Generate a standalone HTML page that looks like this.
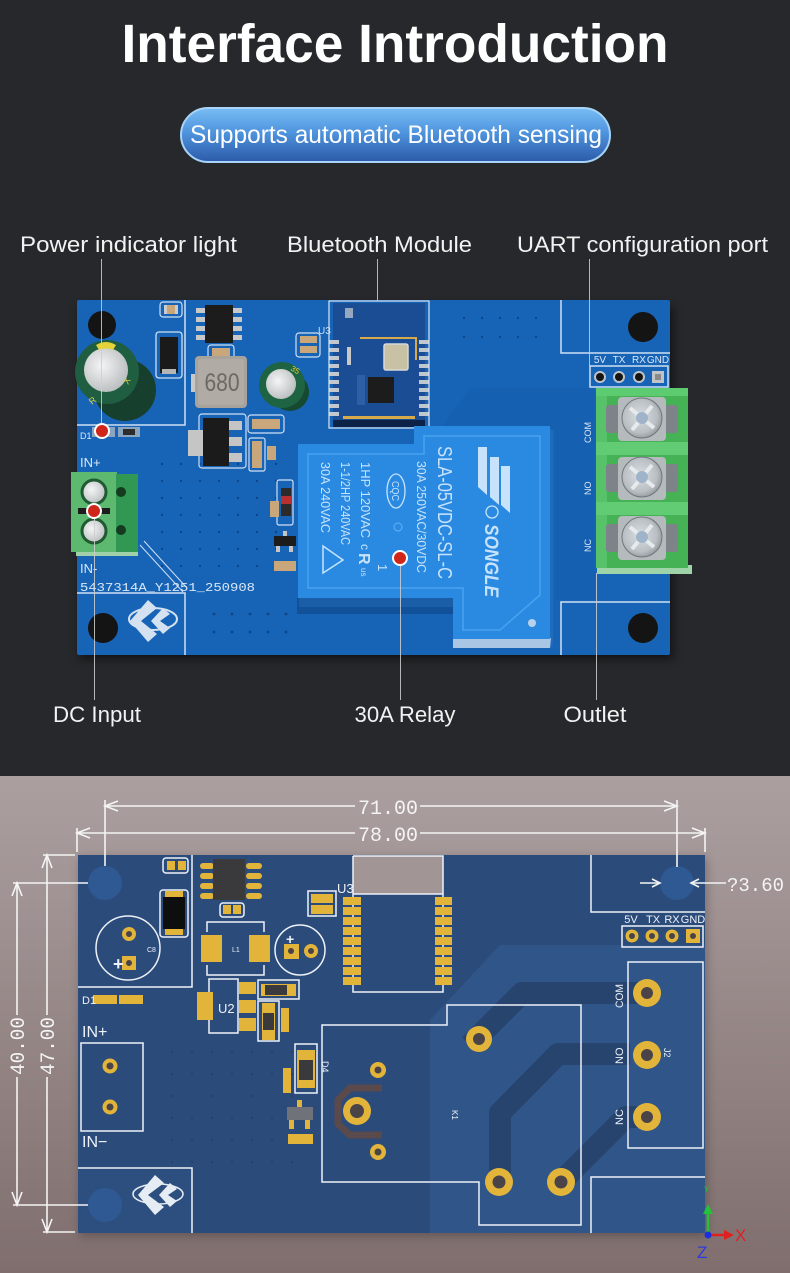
<!DOCTYPE html>
<html><head><meta charset="utf-8"><style>html,body{margin:0;padding:0;background:#27282b;width:790px;height:1273px;overflow:hidden}svg{display:block}</style></head>
<body>
<svg xmlns="http://www.w3.org/2000/svg" width="790" height="1273" viewBox="0 0 790 1273" font-family="'Liberation Sans', sans-serif">
<defs>
 <linearGradient id="btn" x1="0" y1="0" x2="0" y2="1">
  <stop offset="0" stop-color="#78bdf4"/><stop offset="0.45" stop-color="#4f94de"/><stop offset="1" stop-color="#2b5aa8"/>
 </linearGradient>
 <linearGradient id="bot" x1="0" y1="0" x2="0" y2="1">
  <stop offset="0" stop-color="#ab9f9f"/><stop offset="0.3" stop-color="#9f9191"/><stop offset="1" stop-color="#806e6e"/>
 </linearGradient>
 <radialGradient id="silv" cx="0.4" cy="0.4" r="0.7">
  <stop offset="0" stop-color="#f4f5f5"/><stop offset="1" stop-color="#b4b8ba"/>
 </radialGradient>
 <radialGradient id="scr" cx="0.45" cy="0.45" r="0.6">
  <stop offset="0" stop-color="#d8dde0"/><stop offset="0.7" stop-color="#b9bfc3"/><stop offset="1" stop-color="#8e9599"/>
 </radialGradient>
 <filter id="sh" x="-10%" y="-10%" width="120%" height="130%"><feGaussianBlur stdDeviation="5"/></filter>
 <pattern id="via1" x="160" y="462" width="19" height="17" patternUnits="userSpaceOnUse"><circle cx="2" cy="2" r="1.2" fill="#0d4587"/></pattern>
 <pattern id="via2" x="212" y="612" width="18" height="18" patternUnits="userSpaceOnUse"><circle cx="2" cy="2" r="1.4" fill="#0d4587"/></pattern>
 <pattern id="via3" x="462" y="316" width="18" height="19" patternUnits="userSpaceOnUse"><circle cx="2" cy="2" r="1.2" fill="#0d4587"/></pattern>
 <pattern id="via4" x="170" y="1050" width="20" height="22" patternUnits="userSpaceOnUse"><circle cx="2" cy="2" r="0.9" fill="#1f3a63"/></pattern>
</defs>

<rect width="790" height="776" fill="#27282b"/>
<rect y="776" width="790" height="497" fill="url(#bot)"/>

<text x="395" y="62" text-anchor="middle" font-size="54" font-weight="bold" fill="#ffffff" textLength="547" lengthAdjust="spacingAndGlyphs">Interface Introduction</text>

<rect x="181" y="108" width="429" height="54" rx="27" fill="url(#btn)" stroke="#a7d4f8" stroke-width="2"/>
<text x="396" y="143" text-anchor="middle" font-size="25" fill="#ffffff" textLength="412" lengthAdjust="spacingAndGlyphs">Supports automatic Bluetooth sensing</text>

<g font-size="22" fill="#f2f2f2" text-anchor="middle">
 <text x="128.5" y="252" textLength="217" lengthAdjust="spacingAndGlyphs">Power indicator light</text>
 <text x="379.5" y="252" textLength="185" lengthAdjust="spacingAndGlyphs">Bluetooth Module</text>
 <text x="642.5" y="252" textLength="251" lengthAdjust="spacingAndGlyphs">UART configuration port</text>
 <text x="97" y="722" textLength="88" lengthAdjust="spacingAndGlyphs">DC Input</text>
 <text x="405" y="722" textLength="101" lengthAdjust="spacingAndGlyphs">30A Relay</text>
 <text x="595" y="722" textLength="63" lengthAdjust="spacingAndGlyphs">Outlet</text>
</g>

<!-- ============ TOP PCB ============ -->
<rect x="80" y="307" width="593" height="352" fill="#000" opacity="0.55" filter="url(#sh)"/>
<rect x="77" y="300" width="593" height="355" rx="2" fill="#1764b7"/>
<polygon points="470,388 595,388 595,600 555,600 555,430 440,430" fill="#135aa9" opacity="0.45"/>
<rect x="158" y="460" width="132" height="118" fill="url(#via1)"/>
<rect x="210" y="610" width="82" height="30" fill="url(#via2)"/>
<rect x="460" y="314" width="84" height="28" fill="url(#via3)"/>

<g stroke="#cfe0f4" stroke-width="1.5" fill="none">
 <polyline points="77,425 185,425 185,300"/>
 <polyline points="77,593 185,593 185,655"/>
 <polyline points="561,300 561,353 670,353"/>
 <polyline points="670,602 561,602 561,655"/>
 <rect x="590" y="366" width="78" height="21"/>
 <line x1="140" y1="545" x2="183" y2="592" stroke-width="1"/>
 <line x1="144" y1="541" x2="187" y2="588" stroke-width="1"/>
</g>

<circle cx="102" cy="325" r="14" fill="#141414"/>
<circle cx="643" cy="327" r="15" fill="#141414"/>
<circle cx="103" cy="628" r="15" fill="#141414"/>
<circle cx="643" cy="628" r="15" fill="#141414"/>

<polygon points="79,385 101,349 147,402 125,420" fill="#173f2e"/>
<circle cx="125" cy="390" r="31" fill="#173f2e"/>
<circle cx="107" cy="372" r="32" fill="#1f5e40"/>
<circle cx="106" cy="370" r="22" fill="url(#silv)"/>
<path d="M96,345 Q106,339 116,345 L113,350 Q106,347 99,350 Z" fill="#e3d23a"/>
<text x="92" y="405" font-size="9" fill="#e3d23a" transform="rotate(-40 92 405)">R</text>
<text x="128" y="385" font-size="9" fill="#e3d23a" transform="rotate(-60 128 385)">X</text>

<rect x="156" y="332" width="26" height="46" rx="3" fill="none" stroke="#cfe0f4" stroke-width="1.3"/>
<rect x="160" y="337" width="18" height="36" fill="#1a1a1a"/>
<rect x="162" y="369" width="14" height="5" fill="#b5b5b5"/>
<rect x="160" y="302" width="22" height="15" rx="3" fill="none" stroke="#cfe0f4" stroke-width="1.2"/>
<rect x="164" y="305" width="14" height="9" fill="#c9a77a"/>
<rect x="164" y="305" width="3" height="9" fill="#ccc"/><rect x="175" y="305" width="3" height="9" fill="#ccc"/>

<g fill="#c8c8c8">
 <rect x="196" y="308" width="10" height="5"/><rect x="196" y="317" width="10" height="5"/><rect x="196" y="326" width="10" height="5"/><rect x="196" y="335" width="10" height="5"/>
 <rect x="232" y="308" width="10" height="5"/><rect x="232" y="317" width="10" height="5"/><rect x="232" y="326" width="10" height="5"/><rect x="232" y="335" width="10" height="5"/>
</g>
<rect x="205" y="305" width="28" height="38" fill="#1c1c1c"/>
<rect x="208" y="345" width="26" height="15" rx="3" fill="none" stroke="#cfe0f4" stroke-width="1.2"/>
<rect x="212" y="348" width="18" height="9" fill="#c9a77a"/>

<rect x="191" y="374" width="6" height="18" fill="#c8c8c8"/>
<rect x="195" y="356" width="52" height="52" rx="4" fill="#a7a29b"/>
<rect x="198" y="359" width="46" height="46" rx="3" fill="#b0aba4"/>
<text x="222" y="391" text-anchor="middle" font-size="25" fill="#6d6862" textLength="35" lengthAdjust="spacingAndGlyphs">680</text>

<circle cx="290" cy="392" r="19" fill="#154a30"/>
<circle cx="282" cy="385" r="23" fill="#1e6342"/>
<circle cx="281" cy="384" r="15" fill="url(#silv)"/>
<text x="290" y="370" font-size="8" fill="#e3d23a" transform="rotate(30 290 370)">35</text>

<rect x="296" y="333" width="24" height="24" rx="3" fill="none" stroke="#cfe0f4" stroke-width="1.2"/>
<rect x="300" y="336" width="17" height="7" fill="#c9a77a"/><rect x="300" y="346" width="17" height="7" fill="#c9a77a"/>

<rect x="199" y="414" width="47" height="54" rx="3" fill="none" stroke="#cfe0f4" stroke-width="1.2"/>
<rect x="188" y="430" width="16" height="26" fill="#c5c5c5"/>
<rect x="203" y="418" width="26" height="48" fill="#1b1b1b"/>
<g fill="#c5c5c5"><rect x="229" y="421" width="13" height="9"/><rect x="229" y="437" width="13" height="9"/><rect x="229" y="453" width="13" height="9"/></g>
<rect x="248" y="415" width="36" height="18" rx="3" fill="none" stroke="#cfe0f4" stroke-width="1.2"/>
<rect x="252" y="419" width="28" height="10" fill="#c9a77a"/>
<rect x="249" y="438" width="16" height="33" rx="2" fill="none" stroke="#cfe0f4" stroke-width="1.2"/>
<rect x="252" y="441" width="10" height="27" fill="#c9a77a"/>
<rect x="267" y="446" width="9" height="14" fill="#c9a77a"/>

<text x="80" y="439" font-size="9" fill="#dbe7f5">D1</text>
<rect x="92" y="427" width="23" height="10" fill="#8ba4c0"/>
<rect x="118" y="427" width="22" height="10" fill="#8ba4c0"/>
<rect x="123" y="429" width="12" height="6" fill="#2d2d2d"/>

<rect x="76" y="548" width="62" height="8" fill="#9fd0a8"/>
<rect x="71" y="472" width="46" height="80" fill="#5cb96f"/>
<rect x="116" y="474" width="22" height="78" fill="#309852"/>
<circle cx="121" cy="492" r="5" fill="#143a20"/>
<circle cx="121" cy="530" r="5" fill="#143a20"/>
<rect x="78" y="508" width="32" height="6" fill="#1d1d1d"/>
<circle cx="94" cy="492" r="12" fill="url(#silv)" stroke="#1f5a32" stroke-width="3"/>
<circle cx="94" cy="531" r="12" fill="url(#silv)" stroke="#1f5a32" stroke-width="3"/>

<g fill="#dbe7f5">
 <text x="80" y="467" font-size="13">IN+</text>
 <text x="80" y="573" font-size="13">IN-</text>
 <text x="80" y="591" font-size="12" font-family="'Liberation Mono', monospace" textLength="175" lengthAdjust="spacingAndGlyphs">5437314A_Y1251_250908</text>
</g>
<g fill="#d4e1f1">
 <ellipse cx="153" cy="619" rx="24" ry="11" fill="none" stroke="#d4e1f1" stroke-width="2"/>
 <polygon points="148,600 157,608 141,621 157,634 148,642 130,621"/>
 <polygon points="163,608 170,614 160,621 170,628 163,634 151,621" />
</g>

<rect x="333" y="303" width="92" height="123" fill="#1b4d95"/>
<g fill="#c2c8d0">
 <rect x="329" y="340" width="10" height="4"/><rect x="329" y="348" width="10" height="4"/><rect x="329" y="356" width="10" height="4"/><rect x="329" y="364" width="10" height="4"/><rect x="329" y="372" width="10" height="4"/><rect x="329" y="380" width="10" height="4"/><rect x="329" y="388" width="10" height="4"/><rect x="329" y="396" width="10" height="4"/><rect x="329" y="404" width="10" height="4"/><rect x="329" y="412" width="10" height="4"/>
 <rect x="419" y="340" width="10" height="4"/><rect x="419" y="348" width="10" height="4"/><rect x="419" y="356" width="10" height="4"/><rect x="419" y="364" width="10" height="4"/><rect x="419" y="372" width="10" height="4"/><rect x="419" y="380" width="10" height="4"/><rect x="419" y="388" width="10" height="4"/><rect x="419" y="396" width="10" height="4"/><rect x="419" y="404" width="10" height="4"/><rect x="419" y="412" width="10" height="4"/>
</g>
<path d="M360,338 L416,338 L416,360" stroke="#d6a94a" stroke-width="2" fill="none"/>
<rect x="343" y="416" width="72" height="3" fill="#d6a94a"/>
<rect x="384" y="344" width="24" height="26" rx="2" fill="#c9c1a3" stroke="#d8d8d8" stroke-width="1.5"/>
<rect x="368" y="377" width="26" height="26" fill="#1c1c1c"/>
<rect x="345" y="308" width="8" height="10" fill="#b5bfca" opacity="0.8"/>
<rect x="357" y="375" width="8" height="30" fill="#2e5ea6"/>
<rect x="347" y="347" width="4" height="18" fill="#c8c8c8"/>
<rect x="333" y="420" width="92" height="7" fill="#0c2247"/>
<rect x="329" y="301" width="100" height="127" fill="none" stroke="#d9e4f2" stroke-width="1.2"/>
<text x="318" y="334" font-size="10" fill="#cfe0f3">U3</text>

<rect x="277" y="480" width="16" height="45" rx="2" fill="none" stroke="#cfe0f4" stroke-width="1.2"/>
<rect x="281" y="488" width="10" height="28" fill="#2b2b2b"/>
<rect x="281" y="496" width="10" height="8" fill="#b83030"/>
<rect x="270" y="501" width="9" height="16" fill="#c9a77a"/>
<rect x="274" y="536" width="22" height="10" fill="#1c1c1c"/>
<rect x="276" y="546" width="4" height="6" fill="#c5c5c5"/><rect x="289" y="546" width="4" height="6" fill="#c5c5c5"/><rect x="283" y="531" width="4" height="5" fill="#c5c5c5"/>
<rect x="274" y="561" width="22" height="10" fill="#c9a77a"/>

<rect x="297" y="598" width="156" height="16" fill="#11519a"/>
<polygon points="549,428 553,430 553,646 549,648" fill="#1f6cbd"/>
<polygon points="299,598 453,598 453,607 299,607" fill="#1b5ea8"/>
<polygon points="453,638 551,638 550,648 453,648" fill="#a9c6e4"/>
<polygon points="298,444 414,444 414,426 550,426 550,639 453,639 453,598 298,598" fill="#2a8ae2"/>
<polygon points="308,454 424,454 424,436 540,436 540,595 500,630 463,630 463,588 308,588" fill="none" stroke="#4aa2ef" stroke-width="1.5"/>
<g fill="#c7e3fb">
 <text transform="translate(438,446) rotate(90)" font-size="20" textLength="133" lengthAdjust="spacingAndGlyphs">SLA-05VDC-SL-C</text>
 <text transform="translate(417,461) rotate(90)" font-size="13" textLength="112" lengthAdjust="spacingAndGlyphs">30A 250VAC/30VDC</text>
 <text transform="translate(361,462) rotate(90)" font-size="13" textLength="76" lengthAdjust="spacingAndGlyphs">1HP 120VAC</text>
 <text transform="translate(341,462) rotate(90)" font-size="13" textLength="83" lengthAdjust="spacingAndGlyphs">1-1/2HP 240VAC</text>
 <text transform="translate(321,462) rotate(90)" font-size="13" textLength="71" lengthAdjust="spacingAndGlyphs">30A 240VAC</text>
 <text transform="translate(485,524) rotate(90)" font-size="19" font-weight="bold" font-style="italic" textLength="73" lengthAdjust="spacingAndGlyphs">SONGLE</text>
 <text transform="translate(392,481) rotate(90)" font-size="10" textLength="20" lengthAdjust="spacingAndGlyphs">CQC</text>
 <text transform="translate(361,544) rotate(90)" font-size="12">c</text>
 <text transform="translate(359,553) rotate(90)" font-size="16" font-weight="bold">R</text>
 <text transform="translate(361,568) rotate(90)" font-size="8">us</text>
 <text transform="translate(378,564) rotate(90)" font-size="13">1</text>
 <polygon points="478,447 487,447 487,495 478,487"/>
 <polygon points="490,457 499,457 499,505 490,497"/>
 <polygon points="501,466 510,466 510,513 501,505"/>
</g>
<ellipse cx="396" cy="491" rx="9" ry="17" fill="none" stroke="#c7e3fb" stroke-width="1.3"/>
<circle cx="492" cy="512" r="6" fill="none" stroke="#c7e3fb" stroke-width="1.3"/>
<polygon points="323,546 343,560 323,573" fill="none" stroke="#c7e3fb" stroke-width="1.5"/>
<circle cx="398" cy="527" r="4" fill="none" stroke="#5aaaf0" stroke-width="1.2"/>
<circle cx="532" cy="623" r="4" fill="#b9d2ea"/>

<g font-size="10" fill="#dbe7f5" text-anchor="middle">
 <text x="600" y="363">5V</text><text x="619" y="363">TX</text><text x="639" y="363">RX</text><text x="658" y="363">GND</text>
</g>
<g fill="#c0c4c8"><circle cx="600" cy="377" r="6"/><circle cx="619" cy="377" r="6"/><circle cx="639" cy="377" r="6"/><rect x="652" y="371" width="12" height="12"/></g>
<g fill="#151515"><circle cx="600" cy="377" r="4"/><circle cx="619" cy="377" r="4"/><circle cx="639" cy="377" r="4"/><rect x="655" y="374" width="6" height="6" fill="#8a8a8a"/></g>

<g font-size="9" fill="#dbe7f5">
 <text transform="translate(591,443) rotate(-90)">COM</text>
 <text transform="translate(591,495) rotate(-90)">NO</text>
 <text transform="translate(591,552) rotate(-90)">NC</text>
</g>

<rect x="597" y="565" width="95" height="9" fill="#9ed4a8"/>
<rect x="596" y="388" width="92" height="180" fill="#45b256"/>
<rect x="596" y="388" width="11" height="180" fill="#57c26a"/>
<rect x="596" y="388" width="92" height="8" fill="#5dcb70"/>
<rect x="596" y="442" width="92" height="13" fill="#62cc74"/>
<rect x="596" y="502" width="92" height="13" fill="#62cc74"/>
<g>
 <rect x="606" y="405" width="72" height="28" rx="3" fill="#7d8388"/>
 <rect x="618" y="397" width="48" height="44" rx="4" fill="#b5babd"/>
 <circle cx="642" cy="418" r="20" fill="url(#scr)" stroke="#6f777c" stroke-width="1"/>
 <path d="M630,408 L654,428 M652,406 L632,430" stroke="#e6eaec" stroke-width="4"/>
 <circle cx="642" cy="418" r="6" fill="#9fb4c8"/>
 <rect x="606" y="464" width="72" height="28" rx="3" fill="#7d8388"/>
 <rect x="618" y="457" width="48" height="43" rx="4" fill="#b5babd"/>
 <circle cx="642" cy="477" r="20" fill="url(#scr)" stroke="#6f777c" stroke-width="1"/>
 <path d="M630,467 L654,487 M652,465 L632,489" stroke="#e6eaec" stroke-width="4"/>
 <circle cx="642" cy="477" r="6" fill="#9fb4c8"/>
 <rect x="606" y="524" width="72" height="28" rx="3" fill="#7d8388"/>
 <rect x="618" y="516" width="48" height="44" rx="4" fill="#b5babd"/>
 <circle cx="642" cy="537" r="20" fill="url(#scr)" stroke="#6f777c" stroke-width="1"/>
 <path d="M630,527 L654,547 M652,525 L632,549" stroke="#e6eaec" stroke-width="4"/>
 <circle cx="642" cy="537" r="6" fill="#9fb4c8"/>
</g>

<g stroke="#cfcfcf" stroke-width="1" opacity="0.85">
 <line x1="101.5" y1="259" x2="101.5" y2="425"/>
 <line x1="377.5" y1="259" x2="377.5" y2="301"/>
 <line x1="589.5" y1="259" x2="589.5" y2="366"/>
 <line x1="94.5" y1="517" x2="94.5" y2="700"/>
 <line x1="400.5" y1="564" x2="400.5" y2="700"/>
 <line x1="596.5" y1="573" x2="596.5" y2="700"/>
</g>
<g fill="#d0261a" stroke="#ffffff" stroke-width="2">
 <circle cx="102" cy="431" r="7"/>
 <circle cx="94" cy="511" r="7"/>
 <circle cx="400" cy="558" r="7"/>
</g>

<!-- ============ BOTTOM PCB ============ -->
<rect x="80" y="858" width="627" height="378" fill="#000" opacity="0.25" filter="url(#sh)"/>
<rect x="78" y="855" width="627" height="378" fill="#2b4b7a"/>
<polygon points="500,945 705,945 705,1233 430,1233 430,1020" fill="#32588c" opacity="0.8"/>
<polygon points="78,1170 192,1170 192,1233 78,1233" fill="#2d4f80"/>
<rect x="168" y="1048" width="140" height="125" fill="url(#via4)"/>
<g stroke="#26426b" stroke-width="22" fill="none" stroke-linejoin="round" opacity="0.85">
 <polyline points="500,1182 500,1113 558,1054 630,1054"/>
 <polyline points="561,1182 626,1117 647,1117"/>
 <polyline points="470,1045 522,993 647,993"/>
</g>
<path d="M382,1088 L350,1088 L338,1100 L338,1124 L350,1135 L382,1135" stroke="#5a4a4c" stroke-width="7" fill="none"/>

<rect x="353" y="856" width="90" height="38" fill="#a29595"/>

<g stroke="#eef2f8" stroke-width="1.5" fill="none">
 <polyline points="78,987 192,987 192,855"/>
 <polyline points="78,1168 192,1168 192,1233"/>
 <polyline points="591,855 591,912 705,912"/>
 <polyline points="705,1177 591,1177 591,1233"/>
 <polyline points="353,856 443,856 443,992 353,992 353,856"/>
 <line x1="353" y1="894" x2="443" y2="894"/>
 <polygon points="322,1025 447,1025 447,1005 581,1005 581,1225 479,1225 479,1182 322,1182"/>
 <rect x="622" y="926" width="81" height="21"/>
 <rect x="628" y="962" width="75" height="186"/>
 <rect x="81" y="1043" width="62" height="88"/>
 <circle cx="128" cy="948" r="32"/>
 <circle cx="300" cy="950" r="25"/>
 <rect x="160" y="890" width="28" height="47" rx="3"/>
 <rect x="163" y="858" width="25" height="15" rx="3"/>
 <rect x="220" y="903" width="24" height="14" rx="3"/>
 <path d="M207,932 L207,922 L264,922 L264,932 M207,965 L207,975 L264,975 L264,965"/>
 <rect x="209" y="979" width="29" height="54"/>
 <rect x="258" y="980" width="41" height="19"/>
 <rect x="258" y="1001" width="21" height="40"/>
 <rect x="295" y="1044" width="22" height="49"/>
 <rect x="308" y="891" width="28" height="25"/>
</g>

<g fill="#2f5992"><circle cx="105" cy="883" r="17"/><circle cx="105" cy="1205" r="17"/><circle cx="677" cy="883" r="17"/></g>

<g fill="#e2b53a">
 <rect x="167" y="861" width="8" height="9"/><rect x="178" y="861" width="8" height="9"/>
 <rect x="165" y="891" width="18" height="6"/><rect x="165" y="929" width="18" height="6"/>
 <rect x="200" y="863" width="14" height="6" rx="3"/><rect x="200" y="873" width="14" height="6" rx="3"/><rect x="200" y="883" width="14" height="6" rx="3"/><rect x="200" y="893" width="14" height="6" rx="3"/>
 <rect x="246" y="863" width="16" height="6" rx="3"/><rect x="246" y="873" width="16" height="6" rx="3"/><rect x="246" y="883" width="16" height="6" rx="3"/><rect x="246" y="893" width="16" height="6" rx="3"/>
 <rect x="223" y="905" width="8" height="9"/><rect x="233" y="905" width="8" height="9"/>
 <rect x="201" y="935" width="21" height="27"/><rect x="249" y="935" width="21" height="27"/>
 <rect x="284" y="944" width="15" height="15"/><circle cx="311" cy="951" r="7"/>
 <circle cx="129" cy="934" r="7"/><rect x="122" y="956" width="14" height="14"/>
 <rect x="197" y="992" width="16" height="28"/>
 <rect x="239" y="982" width="17" height="12"/><rect x="239" y="1000" width="17" height="13"/><rect x="239" y="1018" width="17" height="13"/>
 <rect x="261" y="984" width="35" height="12"/>
 <rect x="262" y="1003" width="13" height="37"/>
 <rect x="281" y="1008" width="8" height="24"/>
 <rect x="297" y="1050" width="18" height="38"/>
 <rect x="283" y="1068" width="8" height="25"/>
 <rect x="297" y="1100" width="5" height="8"/><rect x="289" y="1120" width="5" height="9"/><rect x="305" y="1120" width="5" height="9"/>
 <rect x="288" y="1134" width="25" height="10"/>
 <rect x="93" y="995" width="24" height="9"/><rect x="119" y="995" width="24" height="9"/>
 <rect x="311" y="894" width="22" height="9"/><rect x="311" y="905" width="22" height="9"/>
 <circle cx="110" cy="1066" r="7.5"/><circle cx="110" cy="1107" r="7.5"/>
 <circle cx="479" cy="1039" r="13"/><circle cx="357" cy="1111" r="14"/><circle cx="378" cy="1070" r="8"/><circle cx="378" cy="1152" r="8"/>
 <circle cx="499" cy="1182" r="14"/><circle cx="561" cy="1182" r="14"/>
 <circle cx="647" cy="993" r="14"/><circle cx="647" cy="1055" r="14"/><circle cx="647" cy="1117" r="14"/>
 <circle cx="632" cy="936" r="6.5"/><circle cx="652" cy="936" r="6.5"/><circle cx="672" cy="936" r="6.5"/><rect x="686" y="929" width="14" height="14"/>
</g>
<g fill="#e2b53a">
 <rect x="343" y="897" width="18" height="8"/><rect x="343" y="907" width="18" height="8"/><rect x="343" y="917" width="18" height="8"/><rect x="343" y="927" width="18" height="8"/><rect x="343" y="937" width="18" height="8"/><rect x="343" y="947" width="18" height="8"/><rect x="343" y="957" width="18" height="8"/><rect x="343" y="967" width="18" height="8"/><rect x="343" y="977" width="18" height="8"/>
 <rect x="435" y="897" width="17" height="8"/><rect x="435" y="907" width="17" height="8"/><rect x="435" y="917" width="17" height="8"/><rect x="435" y="927" width="17" height="8"/><rect x="435" y="937" width="17" height="8"/><rect x="435" y="947" width="17" height="8"/><rect x="435" y="957" width="17" height="8"/><rect x="435" y="967" width="17" height="8"/><rect x="435" y="977" width="17" height="8"/>
</g>
<g fill="#3a3a3c">
 <rect x="163" y="897" width="22" height="32" fill="#0e0e0e"/>
 <rect x="213" y="859" width="32" height="41"/>
 <rect x="265" y="985" width="22" height="10"/>
 <rect x="263" y="1013" width="11" height="17"/>
 <rect x="299" y="1060" width="14" height="20"/>
 <rect x="287" y="1107" width="26" height="13" fill="#6f7278"/>
</g>
<g fill="#4a4448">
 <circle cx="129" cy="934" r="3"/><circle cx="129" cy="963" r="3"/><circle cx="291" cy="951" r="3"/><circle cx="311" cy="951" r="3"/>
 <circle cx="110" cy="1066" r="3.5"/><circle cx="110" cy="1107" r="3.5"/>
 <circle cx="479" cy="1039" r="6"/><circle cx="357" cy="1111" r="7"/><circle cx="378" cy="1070" r="3.5"/><circle cx="378" cy="1152" r="3.5"/>
 <circle cx="499" cy="1182" r="6.5"/><circle cx="561" cy="1182" r="6.5"/>
 <circle cx="647" cy="993" r="6"/><circle cx="647" cy="1055" r="6"/><circle cx="647" cy="1117" r="6"/>
 <circle cx="632" cy="936" r="3"/><circle cx="652" cy="936" r="3"/><circle cx="672" cy="936" r="3"/><circle cx="693" cy="936" r="3"/>
</g>

<g fill="#eef2f8">
 <text x="82" y="1004" font-size="11">D1</text>
 <text x="82" y="1037" font-size="16">IN+</text>
 <text x="82" y="1147" font-size="16">IN−</text>
 <text x="113" y="970" font-size="18" font-weight="bold">+</text>
 <text x="286" y="944" font-size="14" font-weight="bold">+</text>
 <text x="147" y="952" font-size="7">C8</text>
 <text x="232" y="952" font-size="7">L1</text>
 <text x="218" y="1013" font-size="13">U2</text>
 <text x="337" y="893" font-size="13">U3</text>
 <text transform="translate(322,1061) rotate(90)" font-size="9">D4</text>
 <text transform="translate(452,1110) rotate(90)" font-size="8">K1</text>
 <text transform="translate(664,1048) rotate(90)" font-size="9">J2</text>
 <text transform="translate(623,1008) rotate(-90)" font-size="11" textLength="24" lengthAdjust="spacingAndGlyphs">COM</text>
 <text transform="translate(623,1064) rotate(-90)" font-size="11">NO</text>
 <text transform="translate(623,1125) rotate(-90)" font-size="11">NC</text>
 <g font-size="11" text-anchor="middle"><text x="631" y="923">5V</text><text x="653" y="923">TX</text><text x="672" y="923">RX</text><text x="693" y="923">GND</text></g>
</g>
<g fill="#e6ecf4">
 <ellipse cx="158" cy="1194" rx="25" ry="10" fill="none" stroke="#e6ecf4" stroke-width="1.5"/>
 <polygon points="155,1175 164,1183 148,1195 164,1207 155,1215 138,1195"/>
 <polygon points="170,1183 177,1189 168,1195 177,1201 170,1207 159,1195"/>
</g>

<g stroke="#f4f4f4" stroke-width="1.6" fill="none">
 <line x1="105" y1="806" x2="355" y2="806"/><line x1="420" y1="806" x2="677" y2="806"/>
 <line x1="105" y1="800" x2="105" y2="866"/><line x1="677" y1="800" x2="677" y2="867"/>
 <polyline points="118,801 105,806 118,811"/><polyline points="664,801 677,806 664,811"/>
 <line x1="77" y1="833" x2="355" y2="833"/><line x1="420" y1="833" x2="705" y2="833"/>
 <line x1="77" y1="828" x2="77" y2="852"/><line x1="705" y1="828" x2="705" y2="852"/>
 <polyline points="90,828 77,833 90,838"/><polyline points="692,828 705,833 692,838"/>
 <line x1="17" y1="883" x2="17" y2="1015"/><line x1="17" y1="1077" x2="17" y2="1205"/>
 <line x1="13" y1="883" x2="88" y2="883"/><line x1="13" y1="1205" x2="88" y2="1205"/>
 <polyline points="12,896 17,883 22,896"/><polyline points="12,1192 17,1205 22,1192"/>
 <line x1="47" y1="855" x2="47" y2="1015"/><line x1="47" y1="1077" x2="47" y2="1232"/>
 <line x1="43" y1="855" x2="75" y2="855"/><line x1="43" y1="1232" x2="75" y2="1232"/>
 <polyline points="42,868 47,855 52,868"/><polyline points="42,1219 47,1232 52,1219"/>
 <line x1="640" y1="883" x2="659" y2="883"/><polyline points="652,879 660,883 652,887"/>
 <line x1="691" y1="883" x2="726" y2="883"/><polyline points="699,879 691,883 699,887"/>
</g>
<g fill="#f4f4f4" font-family="'Liberation Mono', monospace" font-size="20">
 <text x="358" y="814" textLength="60" lengthAdjust="spacingAndGlyphs">71.00</text>
 <text x="358" y="841" textLength="60" lengthAdjust="spacingAndGlyphs">78.00</text>
 <text transform="translate(24,1075) rotate(-90)" textLength="58" lengthAdjust="spacingAndGlyphs">40.00</text>
 <text transform="translate(54,1075) rotate(-90)" textLength="58" lengthAdjust="spacingAndGlyphs">47.00</text>
 <text x="727" y="891" font-size="19" textLength="57" lengthAdjust="spacingAndGlyphs">?3.60</text>
</g>

<line x1="708" y1="1235" x2="708" y2="1212" stroke="#22c33a" stroke-width="2.5"/>
<polygon points="703,1214 708,1204 713,1214" fill="#22c33a"/>
<line x1="708" y1="1235" x2="726" y2="1235" stroke="#e02020" stroke-width="2.5"/>
<polygon points="724,1230 734,1235 724,1240" fill="#e02020"/>
<circle cx="708" cy="1235" r="3.5" fill="#1b2ee0"/>
<text x="735" y="1241" font-size="17" fill="#e02020">X</text>
<text x="697" y="1258" font-size="17" fill="#2a3ae0">Z</text>
<text x="704" y="1192" font-size="8" fill="#22c33a">Y</text>
</svg>
</body></html>
